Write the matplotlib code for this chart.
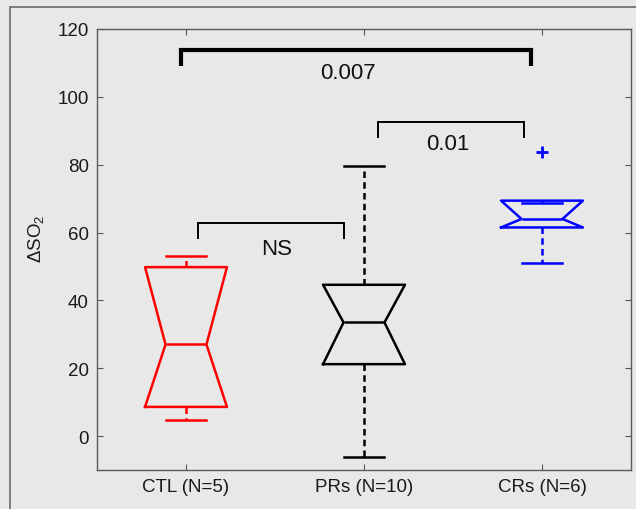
import matplotlib
matplotlib.use("Agg")
import matplotlib.pyplot as plt
from matplotlib.patches import Rectangle

plt.rcParams['font.family'] = ['Liberation Sans', 'DejaVu Sans']
plt.rcParams['mathtext.fontset'] = 'custom'
plt.rcParams['mathtext.rm'] = 'Liberation Sans'

# Box statistics
groups = ['CTL (N=5)', 'PRs (N=10)', 'CRs (N=6)']
colors = ['#ff0000', '#000000', '#0000ff']
q1 = [8.6, 21.2, 61.5]
med = [27.0, 33.5, 64.0]
q3 = [49.8, 44.6, 69.4]
whislo = [4.8, -6.3, 51.0]
whishi = [53.2, 79.7, 68.8]
fliers = [[], [], [83.7]]

# Significance brackets: left x, right x, top y, foot y, label
br_left = [1.07, 2.08, 0.97]
br_right = [1.89, 2.90, 2.94]
br_top = [62.8, 92.7, 113.7]
br_foot = [58.1, 87.8, 109.2]
br_text = ['NS', '0.01', '0.007']
br_text_x = [1.51, 2.47, 1.91]
br_text_y = [55.3, 86.1, 107.3]
br_lw = [1.4, 1.4, 3.0]

bg = '#e8e8e8'
fig = plt.figure(figsize=(6.36, 5.10), dpi=100, facecolor=bg)
ax = fig.add_axes([97 / 636, 1 - 471 / 510, 534 / 636, 441 / 510])
ax.set_facecolor(bg)

# outer frame like the original figure window
fig.patches.append(Rectangle((10 / 636, -0.1), 2, 1.1 - 8 / 510, transform=fig.transFigure,
                             fill=False, edgecolor='#5e5e5e', lw=1.1))

stats = []
for i in range(len(groups)):
    stats.append(dict(label=groups[i], q1=q1[i], med=med[i], q3=q3[i],
                      whislo=whislo[i], whishi=whishi[i], fliers=fliers[i],
                      cilo=q1[i], cihi=q3[i]))

lw = 1.8
art = ax.bxp(stats, positions=[1, 2, 3], widths=0.46, shownotches=True,
             boxprops=dict(lw=lw), medianprops=dict(lw=lw),
             whiskerprops=dict(lw=lw, linestyle=(0, (2.6, 1.7))),
             capprops=dict(lw=lw),
             flierprops=dict(marker='+', markersize=9, markeredgewidth=2))

for i, c in enumerate(colors):
    art['boxes'][i].set_color(c)
    art['medians'][i].set_color(c)
    art['fliers'][i].set_markeredgecolor(c)
    for ln in art['whiskers'][2 * i:2 * i + 2] + art['caps'][2 * i:2 * i + 2]:
        ln.set_color(c)

for i in range(len(br_text)):
    ax.plot([br_left[i], br_left[i], br_right[i], br_right[i]],
            [br_foot[i], br_top[i], br_top[i], br_foot[i]],
            color='black', lw=br_lw[i], solid_joinstyle='miter', solid_capstyle='butt')
    ax.text(br_text_x[i], br_text_y[i], br_text[i], fontsize=16,
            ha='center', va='center', color='#111111')

ax.set_xlim(0.5, 3.5)
ax.set_ylim(-10, 120)
ax.set_yticks(range(0, 121, 20))
ax.set_xticks([1, 2, 3])
ax.set_xticklabels(groups)
ax.tick_params(direction='in', top=True, right=True, length=4, width=0.8,
               color='#555555', labelsize=13.5, labelcolor='#1a1a1a', pad=6)
for s in ax.spines.values():
    s.set_color('#5a5a5a')
    s.set_linewidth(1.0)

ax.set_ylabel('ΔSO$_\\mathregular{2}$', fontsize=13.5, color='#1a1a1a')
ax.yaxis.set_label_coords(-0.094, 0.526)

fig.savefig('out.png', dpi=100, facecolor=bg)
